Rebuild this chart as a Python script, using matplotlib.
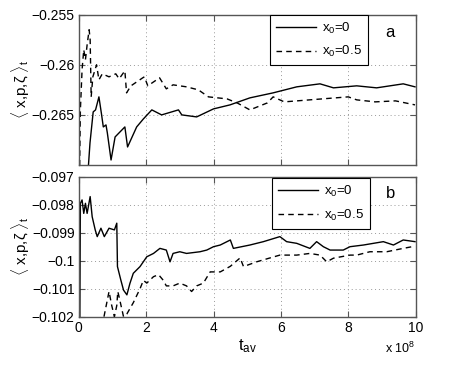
import matplotlib
matplotlib.use("Agg")
import matplotlib.pyplot as plt

plt.rcParams['font.family'] = ['Liberation Sans', 'DejaVu Sans']
plt.rcParams['mathtext.fontset'] = 'custom'
plt.rcParams['mathtext.rm'] = 'Liberation Sans'
plt.rcParams['mathtext.it'] = 'Liberation Sans'

# ---- data (t in units of 1e8) ----
a_solid_t = [0.25, 0.29, 0.335, 0.43, 0.5, 0.6, 0.68, 0.73, 0.81, 0.85, 0.96, 1.08, 1.37, 1.45,
             1.72, 1.92, 2.17, 2.46, 2.96, 3.06, 3.5, 4.0, 4.49, 5.08, 5.77, 6.47, 7.16, 7.56,
             8.25, 8.84, 9.63, 9.98]
a_solid_v = [-0.2725, -0.2700, -0.2678, -0.2647, -0.2645, -0.2632, -0.2650, -0.2662, -0.2660,
             -0.2668, -0.2695, -0.2672, -0.2662, -0.2682, -0.2662, -0.2654, -0.2645, -0.2650,
             -0.2645, -0.2650, -0.2652, -0.2644, -0.2640, -0.2633, -0.2628, -0.2622, -0.2619,
             -0.2623, -0.2621, -0.2623, -0.2619, -0.2622]

a_dash_t = [0.02, 0.05, 0.1, 0.15, 0.2, 0.25, 0.31, 0.34, 0.37, 0.42, 0.53, 0.6, 0.7, 0.9,
            1.1, 1.2, 1.37, 1.42, 1.55, 1.9, 1.95, 2.05, 2.4, 2.6, 2.8, 3.2, 3.55, 3.85,
            4.4, 4.7, 5.08, 5.6, 5.77, 6.1, 6.85, 8.0, 8.25, 8.8, 9.4, 9.98]
a_dash_v = [-0.2720, -0.2645, -0.2605, -0.2585, -0.2595, -0.2580, -0.2565, -0.2575, -0.2632,
            -0.2612, -0.2600, -0.2615, -0.2609, -0.2612, -0.2609, -0.2614, -0.2606, -0.2628,
            -0.2621, -0.2613, -0.2612, -0.2621, -0.2613, -0.2624, -0.2620, -0.2622, -0.2625,
            -0.2632, -0.2634, -0.2638, -0.2645, -0.2638, -0.2632, -0.2637, -0.2635, -0.2632,
            -0.2635, -0.2637, -0.2636, -0.2640]

b_solid_t = [0.03, 0.05, 0.1, 0.15, 0.2, 0.25, 0.34, 0.4, 0.49, 0.55, 0.66, 0.76, 0.9, 1.06,
             1.13, 1.15, 1.25, 1.33, 1.43, 1.52, 1.62, 1.72, 1.82, 2.02, 2.22, 2.41, 2.6, 2.71,
             2.8, 3.0, 3.2, 3.6, 3.8, 4.0, 4.2, 4.5, 4.59, 5.08, 5.48, 5.97, 6.17, 6.47, 6.86,
             7.06, 7.26, 7.46, 7.85, 8.05, 8.45, 9.04, 9.34, 9.63, 9.98]
b_solid_v = [-0.1030, -0.09795, -0.09783, -0.09831, -0.09795, -0.09831, -0.09771, -0.09843,
             -0.0989, -0.09914, -0.09884, -0.09914, -0.09884, -0.0989, -0.09866, -0.10021,
             -0.10069, -0.10105, -0.10122, -0.10081, -0.10045, -0.10033, -0.10021, -0.09986,
             -0.09974, -0.09956, -0.09962, -0.10004, -0.09974, -0.09968, -0.09974, -0.09968,
             -0.09962, -0.0995, -0.09944, -0.09926, -0.09956, -0.09944, -0.09932, -0.09914,
             -0.09932, -0.09938, -0.09956, -0.09932, -0.0995, -0.09962, -0.09962, -0.0995,
             -0.09944, -0.09932, -0.09944, -0.09926, -0.09932]

b_dash_t = [0.75, 0.9, 0.98, 1.06, 1.13, 1.16, 1.2, 1.33, 1.43, 1.62, 1.82, 1.92, 2.02, 2.22,
            2.37, 2.51, 2.6, 2.8, 3.0, 3.2, 3.35, 3.5, 3.7, 3.9, 4.2, 4.5, 4.79, 4.89, 5.28,
            5.68, 5.97, 6.47, 6.86, 7.16, 7.36, 7.56, 8.05, 8.25, 8.64, 9.14, 9.63, 9.98]
b_dash_v = [-0.1020, -0.1011, -0.1016, -0.1020, -0.1016, -0.1011, -0.1013, -0.1020, -0.1019,
            -0.1015, -0.1010, -0.1007, -0.1008, -0.10057, -0.1005, -0.1007, -0.1009, -0.1009,
            -0.1008, -0.1009, -0.1011, -0.1009, -0.1008, -0.1004, -0.1004, -0.1002, -0.0999,
            -0.10021, -0.10004, -0.0999, -0.0998, -0.0998, -0.09974, -0.0998, -0.10004,
            -0.09991, -0.0998, -0.0998, -0.09968, -0.09968, -0.09956, -0.09948]

x_ticks = [0, 2, 4, 6, 8, 10]
a_yticks = [-0.265, -0.26, -0.255]
a_ylabels = ['\u22120.265', '\u22120.26', '\u22120.255']
b_yticks = [-0.102, -0.101, -0.1, -0.099, -0.098, -0.097]
b_ylabels = ['\u22120.102', '\u22120.101', '\u22120.1', '\u22120.099', '\u22120.098', '\u22120.097']
leg_labels = [r'x$_0$=0', r'x$_0$=0.5']

W, H = 463, 377
fig = plt.figure(figsize=(W / 100, H / 100), dpi=100)
L = 78.7 / W
Wd = (415.7 - 78.7) / W
ax1 = fig.add_axes([L, (H - 165.0) / H, Wd, 150.3 / H])
ax2 = fig.add_axes([L, (H - 316.7) / H, Wd, 140.0 / H])

ylab = r'$\langle$ x,p,$\zeta$ $\rangle_{\rm t}$'

for ax, st, sv, dt, dv, yt, yl, ylim, tag, legpos in [
        (ax1, a_solid_t, a_solid_v, a_dash_t, a_dash_v, a_yticks, a_ylabels, (-0.27, -0.255), 'a', (0.568, 1.0)),
        (ax2, b_solid_t, b_solid_v, b_dash_t, b_dash_v, b_yticks, b_ylabels, (-0.102, -0.097), 'b', (0.574, 0.99))]:
    ax.plot(st, sv, color='black', lw=1.0, label=leg_labels[0])
    ax.plot(dt, dv, color='black', lw=1.0, ls=(0, (4, 3)), label=leg_labels[1])
    ax.set_xlim(0, 10)
    ax.set_ylim(*ylim)
    ax.set_xticks(x_ticks)
    ax.set_yticks(yt)
    ax.set_yticklabels(yl)
    ax.grid(True, ls=(0, (1, 3)), color='#999999', lw=0.7)
    ax.tick_params(direction='in', top=True, right=True, labelsize=10, length=4, width=0.8,
                   color='#555555', pad=3)
    for s in ax.spines.values():
        s.set_color('#555555')
        s.set_linewidth(1.0)
    ax.set_ylabel(ylab, fontsize=11)
    leg = ax.legend(loc='upper left', bbox_to_anchor=legpos, borderaxespad=0,
                    fancybox=False, framealpha=1, edgecolor='black', fontsize=9.5,
                    handlelength=3.0, handletextpad=0.5, borderpad=0.45, labelspacing=0.65)
    leg.get_frame().set_linewidth(0.8)
    ax.text(0.925, 0.88, tag, transform=ax.transAxes, fontsize=12, ha='center', va='center')

ax1.set_xticklabels([])
ax2.set_xticklabels([str(v) for v in x_ticks])
ax2.set_xlabel(r't$_{\rm av}$', fontsize=12, labelpad=2)
ax2.text(1.0, -0.17, r'x 10$^8$', transform=ax2.transAxes, fontsize=9, ha='right', va='top')
ax1.yaxis.set_label_coords(-0.14, 0.5)
ax2.yaxis.set_label_coords(-0.14, 0.5)

fig.savefig('out.png', dpi=100)
